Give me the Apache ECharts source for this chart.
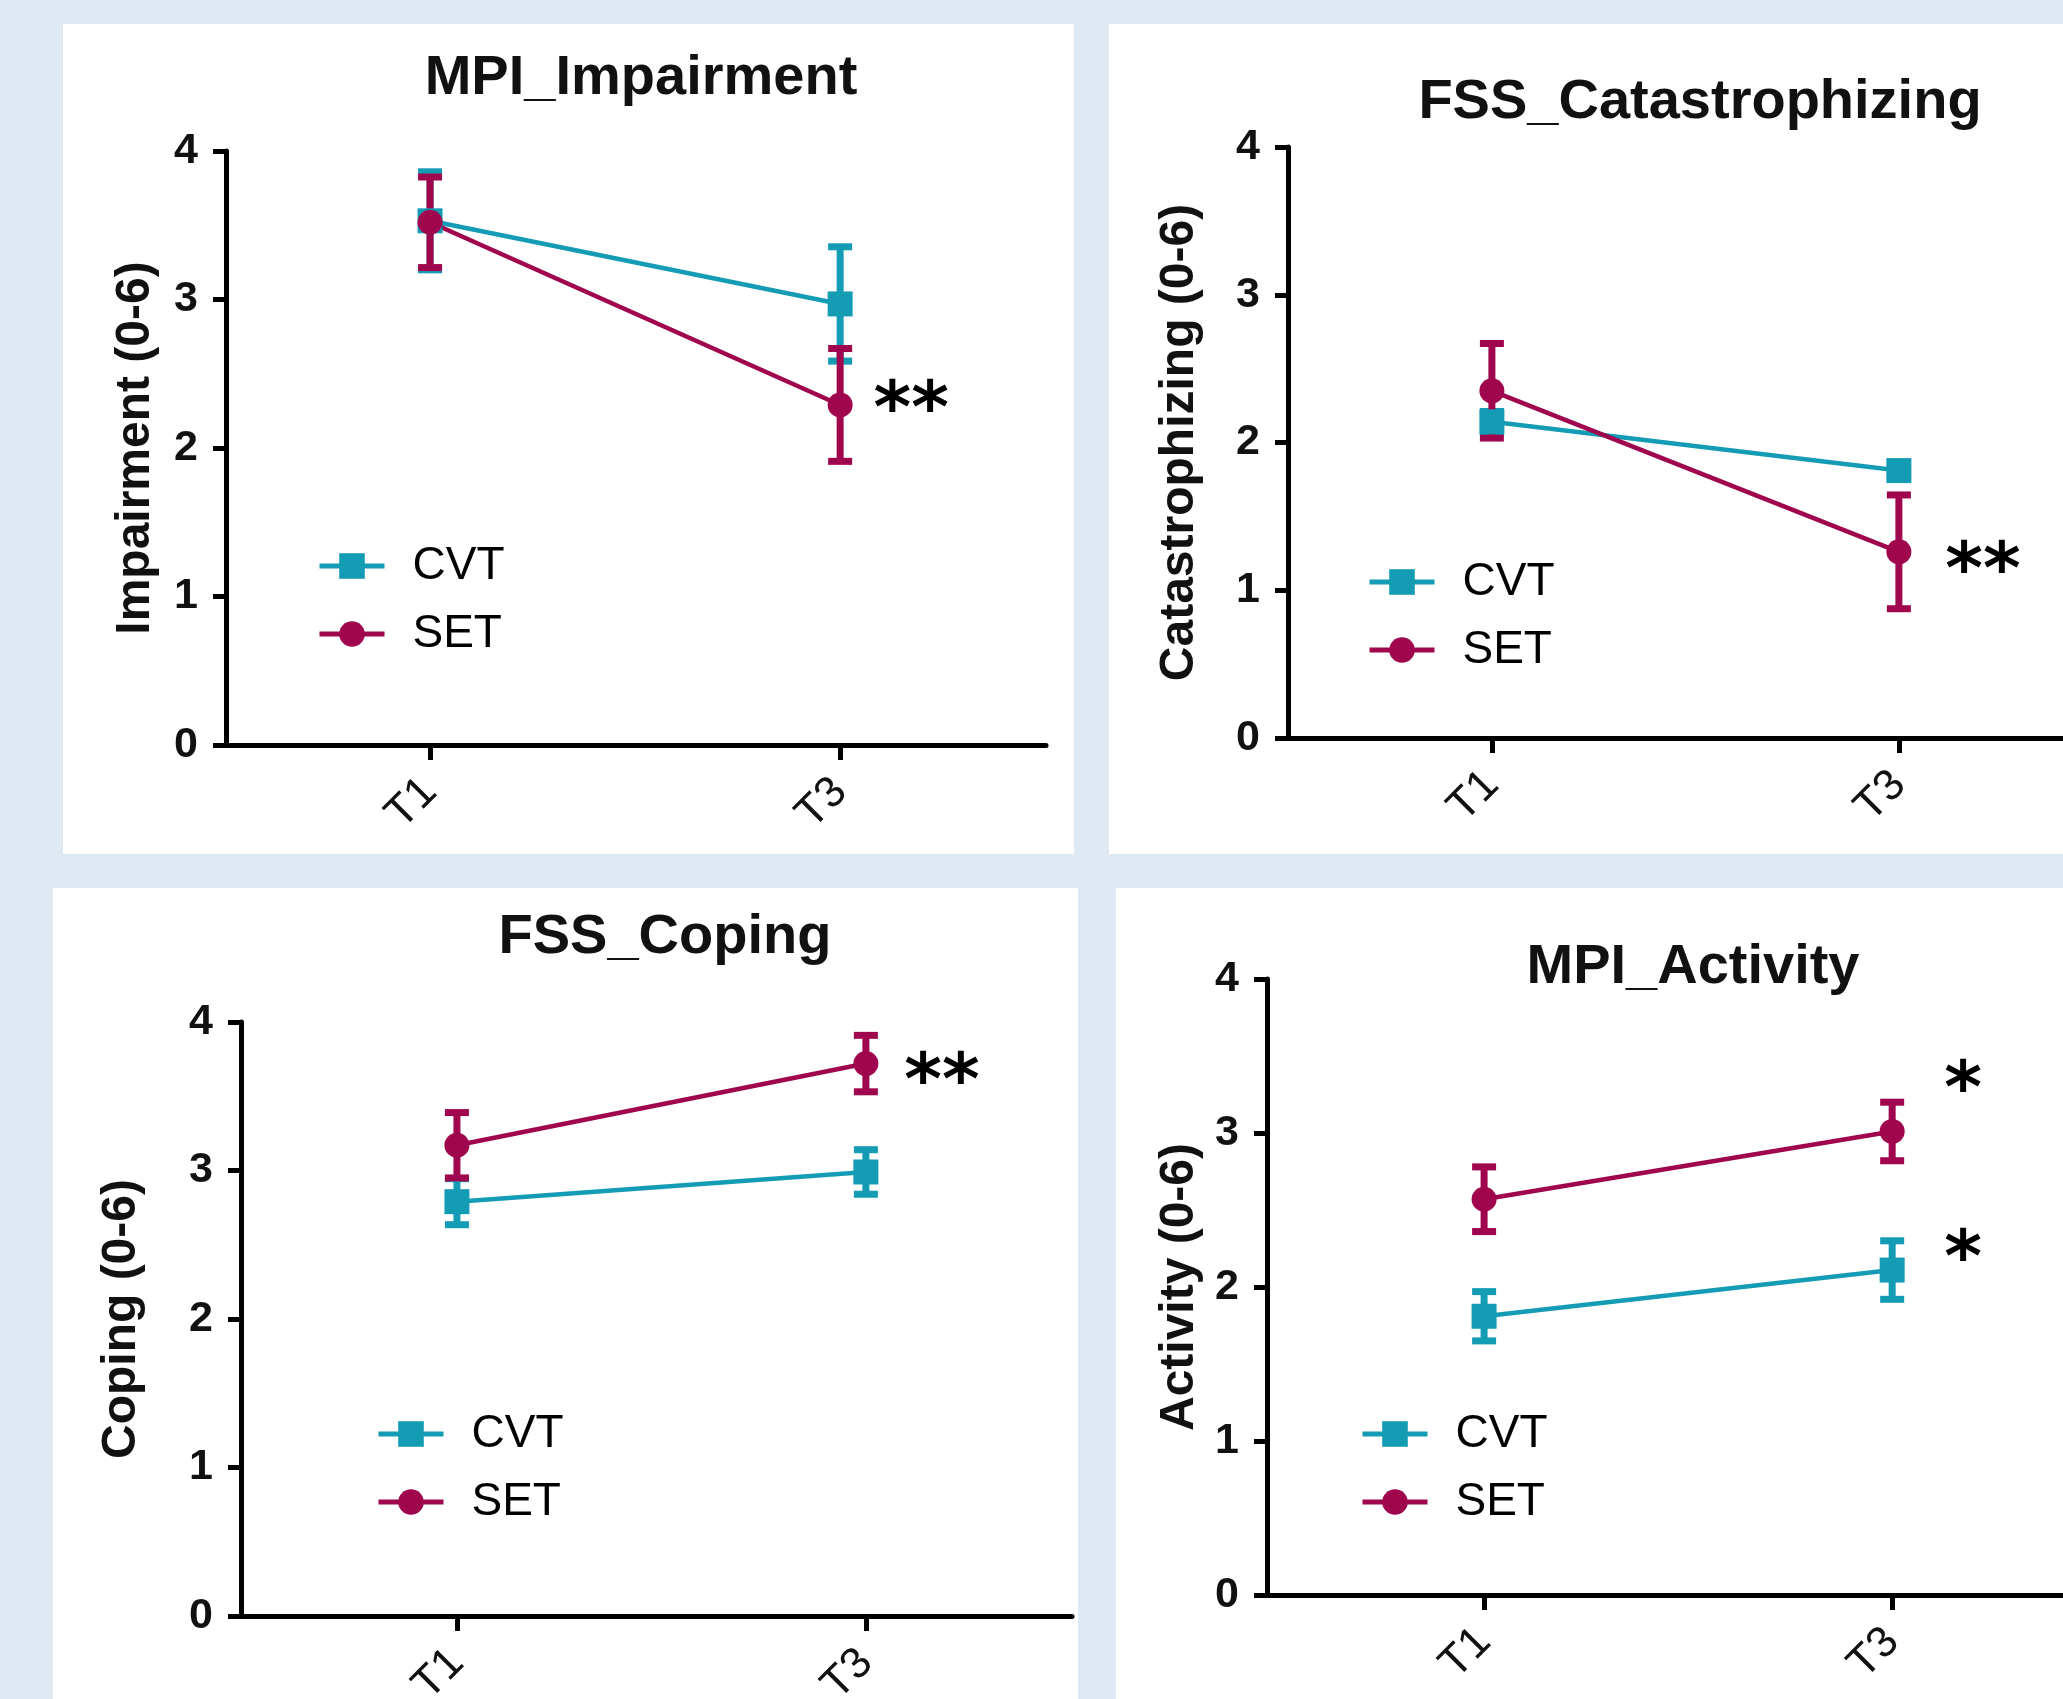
<!DOCTYPE html>
<html><head><meta charset="utf-8">
<script src="https://cdn.jsdelivr.net/npm/echarts@6/dist/echarts.min.js"></script>
<style>
html,body{margin:0;padding:0;width:2063px;height:1699px;overflow:hidden;background:#dfe9f4;}
.panel{position:absolute;background:#fff;overflow:hidden;}
.chart{position:absolute;left:0;top:0;}
</style></head><body>
<div class="panel" style="left:63px;top:24px;width:1011px;height:830px"><div id="p1" class="chart" style="width:1011px;height:830px"></div></div>
<div class="panel" style="left:1109px;top:24px;width:954px;height:830px"><div id="p2" class="chart" style="width:1100px;height:830px"></div></div>
<div class="panel" style="left:53px;top:888px;width:1025px;height:811px"><div id="p3" class="chart" style="width:1025px;height:811px"></div></div>
<div class="panel" style="left:1116px;top:888px;width:947px;height:811px"><div id="p4" class="chart" style="width:1100px;height:811px"></div></div>
<script>
// ---------- data ----------
const timepoints = ['T1', 'T3'];
const groups = ['CVT', 'SET'];
const yTicks = ['0', '1', '2', '3', '4'];

// MPI_Impairment
const impairmentCVT = [3.53, 2.97];
const impairmentCVTErr = [0.33, 0.385];
const impairmentSET = [3.52, 2.29];
const impairmentSETErr = [0.305, 0.38];
const impairmentSigCVT = ['', ''];
const impairmentSigSET = ['', '**'];

// FSS_Catastrophizing
const catastrophCVT = [2.14, 1.81];
const catastrophCVTErr = [0.07, 0.04];
const catastrophSET = [2.35, 1.26];
const catastrophSETErr = [0.32, 0.385];
const catastrophSigCVT = ['', ''];
const catastrophSigSET = ['', '**'];

// FSS_Coping
const copingCVT = [2.79, 2.99];
const copingCVTErr = [0.155, 0.15];
const copingSET = [3.17, 3.72];
const copingSETErr = [0.22, 0.19];
const copingSigCVT = ['', ''];
const copingSigSET = ['', '**'];

// MPI_Activity
const activityCVT = [1.81, 2.11];
const activityCVTErr = [0.16, 0.19];
const activitySET = [2.57, 3.01];
const activitySETErr = [0.21, 0.19];
const activitySigCVT = ['', '*'];
const activitySigSET = ['', '*'];

// ---------- styling / layout ----------
const COLORS = { CVT: '#159cb5', SET: '#a0064e' };
const FONT = '"Liberation Sans", Arial, sans-serif';

const panels = [
  { id: 'p1', title: 'MPI_Impairment', yName: 'Impairment (0-6)',
    cvt: impairmentCVT, cvtErr: impairmentCVTErr, set: impairmentSET, setErr: impairmentSETErr,
    sigCVT: impairmentSigCVT, sigSET: impairmentSigSET,
    grid: { left: 163, top: 127, width: 820, height: 594 }, xMin: -0.4976, xMax: 1.502,
    titleX: 573, titleTop: 22, nameGap: 66, legend: { left: 249, top: 514 },
    offCVT: [71, -8], offSET: [71, 8] },
  { id: 'p2', title: 'FSS_Catastrophizing', yName: 'Catastrophizing (0-6)',
    cvt: catastrophCVT, cvtErr: catastrophCVTErr, set: catastrophSET, setErr: catastrophSETErr,
    sigCVT: catastrophSigCVT, sigSET: catastrophSigSET,
    grid: { left: 179, top: 123, width: 816, height: 591 }, xMin: -0.501, xMax: 1.504,
    titleX: 586, titleTop: 46, nameGap: 84, legend: { left: 253, top: 530 },
    offCVT: [84, 22], offSET: [84, 22] },
  { id: 'p3', title: 'FSS_Coping', yName: 'Coping (0-6)',
    cvt: copingCVT, cvtErr: copingCVTErr, set: copingSET, setErr: copingSETErr,
    sigCVT: copingSigCVT, sigSET: copingSigSET,
    grid: { left: 188, top: 134, width: 831, height: 594 }, xMin: -0.528, xMax: 1.504,
    titleX: 607, titleTop: 17, nameGap: 95, legend: { left: 318, top: 518 },
    offCVT: [76, 22], offSET: [76, 22] },
  { id: 'p4', title: 'MPI_Activity', yName: 'Activity (0-6)',
    cvt: activityCVT, cvtErr: activityCVTErr, set: activitySET, setErr: activitySETErr,
    sigCVT: activitySigCVT, sigSET: activitySigSET,
    grid: { left: 151, top: 91, width: 870, height: 616 }, xMin: -0.532, xMax: 1.6,
    titleX: 572, titleTop: 47, nameGap: 59, legend: { left: 239, top: 518 },
    offCVT: [71, -8], offSET: [71, -38] }
];

function errRender(color) {
  return function (params, api) {
    const x = api.value(0), lo = api.value(1), hi = api.value(2);
    const pLo = api.coord([x, lo]), pHi = api.coord([x, hi]);
    const cap = 12;
    const style = { stroke: color, lineWidth: 7 };
    return { type: 'group', children: [
      { type: 'line', shape: { x1: pLo[0], y1: pLo[1], x2: pHi[0], y2: pHi[1] }, style: style },
      { type: 'line', shape: { x1: pLo[0] - cap, y1: pLo[1], x2: pLo[0] + cap, y2: pLo[1] }, style: style },
      { type: 'line', shape: { x1: pHi[0] - cap, y1: pHi[1], x2: pHi[0] + cap, y2: pHi[1] }, style: style }
    ]};
  };
}

function errData(mean, err) {
  return mean.map((m, i) => [i, m - err[i], m + err[i]]);
}
function lineData(mean) {
  return mean.map((m, i) => [i, m]);
}

function sigLabel(sig, off) {
  return {
    show: true, position: 'inside', offset: off, align: 'center', verticalAlign: 'middle',
    formatter: p => sig[p.dataIndex],
    fontFamily: '"DejaVu Sans", sans-serif', fontWeight: 'bold', fontSize: 72, color: '#000'
  };
}

panels.forEach(pn => {
  const chart = echarts.init(document.getElementById(pn.id), null, { renderer: 'canvas' });
  chart.setOption({
    animation: false,
    textStyle: { fontFamily: FONT },
    title: {
      text: pn.title, left: pn.titleX, top: pn.titleTop, textAlign: 'center',
      textStyle: { fontFamily: FONT, fontSize: 56, fontWeight: 'bold', color: '#111' }
    },
    legend: {
      data: groups, orient: 'vertical', left: pn.legend.left, top: pn.legend.top,
      itemWidth: 65, itemHeight: 32, itemGap: 22,
      lineStyle: { width: 5 },
      formatter: name => '{t|' + name + '}',
      textStyle: { fontFamily: FONT, fontSize: 46, color: '#000',
        rich: { t: { fontFamily: FONT, fontSize: 46, color: '#000', padding: [0, 0, 0, 23], lineHeight: 46 } } }
    },
    grid: Object.assign({ containLabel: false, outerBoundsMode: 'none' }, pn.grid),
    xAxis: {
      type: 'value', min: pn.xMin, max: pn.xMax,
      axisLine: { show: true, onZero: true, lineStyle: { color: '#000', width: 5 } },
      axisTick: { show: true, customValues: [0, 1], length: 15, lineStyle: { color: '#000', width: 5 } },
      axisLabel: { customValues: [0, 1], formatter: v => timepoints[Math.round(v)], rotate: 45,
        fontFamily: FONT, fontSize: 44, color: '#111', margin: 40 },
      splitLine: { show: false }
    },
    yAxis: {
      type: 'value', min: 0, max: 4, interval: 1,
      name: pn.yName, nameLocation: 'middle', nameGap: pn.nameGap,
      nameTextStyle: { fontFamily: FONT, fontSize: 48, fontWeight: 'bold', color: '#111' },
      axisLine: { show: true, onZero: false, lineStyle: { color: '#000', width: 5 } },
      axisTick: { show: true, length: 13, lineStyle: { color: '#000', width: 5 } },
      axisLabel: { formatter: v => yTicks[v], fontFamily: FONT, fontSize: 43, fontWeight: 'bold', color: '#111', margin: 28 },
      splitLine: { show: false }
    },
    series: [
      { name: 'CVT err', type: 'custom', renderItem: errRender(COLORS.CVT),
        encode: { x: 0, y: [1, 2] }, data: errData(pn.cvt, pn.cvtErr), silent: true },
      { name: 'CVT', type: 'line', data: lineData(pn.cvt), color: COLORS.CVT,
        symbol: 'rect', symbolSize: 25, lineStyle: { width: 4.5, color: COLORS.CVT },
        itemStyle: { color: COLORS.CVT }, label: sigLabel(pn.sigCVT, pn.offCVT) },
      { name: 'SET err', type: 'custom', renderItem: errRender(COLORS.SET),
        encode: { x: 0, y: [1, 2] }, data: errData(pn.set, pn.setErr), silent: true },
      { name: 'SET', type: 'line', data: lineData(pn.set), color: COLORS.SET,
        symbol: 'circle', symbolSize: 25, lineStyle: { width: 4.5, color: COLORS.SET },
        itemStyle: { color: COLORS.SET }, label: sigLabel(pn.sigSET, pn.offSET) }
    ]
  });
});
</script>
</body></html>
